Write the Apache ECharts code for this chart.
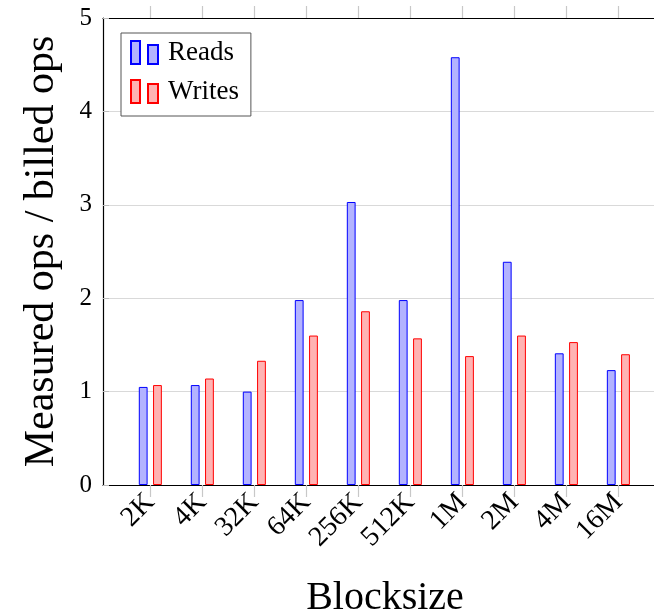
<!DOCTYPE html>
<html>
<head>
<meta charset="utf-8">
<script src="https://cdn.jsdelivr.net/npm/echarts@6/dist/echarts.min.js"></script>
<style>
  html, body { margin: 0; padding: 0; background: #fff; }
  #chart { width: 654px; height: 614px; }
</style>
</head>
<body>
<div id="chart"></div>
<script>
// Block sizes along the x axis
const blockSizes = ['2K', '4K', '32K', '64K', '256K', '512K', '1M', '2M', '4M', '16M'];
// Measured ops / billed ops
const reads  = [1.05, 1.07, 1.00, 1.98, 3.03, 1.98, 4.58, 2.39, 1.41, 1.23];
const writes = [1.07, 1.14, 1.33, 1.60, 1.86, 1.57, 1.38, 1.60, 1.53, 1.40];
const yTicks = [0, 1, 2, 3, 4, 5];

const FONT = "'Liberation Serif', 'Times New Roman', serif";
const positions = blockSizes.map((_, i) => i);

// x range leaves some room on both sides of the first and last group;
// the frame's right side runs just past the page edge
const xMin = -0.91;
const xMax = 9.935;

const legendIcon = 'path://M0,0H9V23H0Z M17,4H27V23H17Z';

const chart = echarts.init(document.getElementById('chart'), null, { renderer: 'canvas' });

chart.setOption({
  animation: false,
  backgroundColor: '#ffffff',
  textStyle: { fontFamily: FONT },
  grid: {
    left: 103, top: 18, width: 564, height: 467,
    containLabel: false,
    outerBoundsMode: 'none'
  },
  legend: {
    orient: 'vertical',
    left: 121,
    top: 33,
    padding: [6, 12, 11, 9],
    itemGap: 12,
    itemWidth: 27,
    itemHeight: 23,
    itemTextGap: 10,
    borderColor: '#555555',
    borderWidth: 1,
    backgroundColor: '#ffffff',
    textStyle: { fontFamily: FONT, fontSize: 27, color: '#000', padding: [0, 0, 0, 5] },
    data: [
      { name: 'Reads', icon: legendIcon },
      { name: 'Writes', icon: legendIcon }
    ]
  },
  xAxis: [
    {
      type: 'value',
      position: 'bottom',
      min: xMin,
      max: xMax,
      name: 'Blocksize',
      nameLocation: 'middle',
      nameGap: 93,
      nameTextStyle: { fontFamily: FONT, fontSize: 40, color: '#000' },
      axisLine: { show: true, onZero: false, lineStyle: { color: '#000', width: 1.2 } },
      axisTick: {
        show: true, inside: false, length: 12,
        customValues: positions,
        lineStyle: { color: '#c8c8c8', width: 1.2 }
      },
      axisLabel: {
        show: true, rotate: 45, margin: 13,
        customValues: positions,
        fontFamily: FONT, fontSize: 28, color: '#000',
        formatter: v => blockSizes[Math.round(v)] || ''
      },
      splitLine: { show: false }
    },
    {
      type: 'value',
      position: 'top',
      min: xMin,
      max: xMax,
      axisLine: { show: true, onZero: false, lineStyle: { color: '#000', width: 1.2 } },
      axisTick: {
        show: true, inside: false, length: 12,
        customValues: positions,
        lineStyle: { color: '#c8c8c8', width: 1.2 }
      },
      axisLabel: { show: false },
      splitLine: { show: false }
    }
  ],
  yAxis: {
    type: 'value',
    min: 0,
    max: 5,
    interval: 1,
    name: 'Measured ops / billed ops',
    nameLocation: 'middle',
    nameGap: 40,
    nameTextStyle: { fontFamily: FONT, fontSize: 42, color: '#000' },
    axisLine: { show: true, onZero: false, lineStyle: { color: '#000', width: 1.2 } },
    axisTick: { show: true, inside: true, length: 6, lineStyle: { color: '#bbbbbb' } },
    axisLabel: {
      customValues: yTicks,
      margin: 11,
      fontFamily: FONT, fontSize: 25, color: '#000'
    },
    splitLine: { show: true, lineStyle: { color: '#d9d9d9', width: 1.2 } }
  },
  series: [
    {
      name: 'Reads',
      type: 'bar',
      xAxisIndex: 0,
      barWidth: 8.8,
      barGap: '62%',
      itemStyle: { color: '#b3b3ff', borderColor: '#0000ff', borderWidth: 1 },
      data: reads.map((v, i) => [i, v])
    },
    {
      name: 'Writes',
      type: 'bar',
      xAxisIndex: 0,
      barWidth: 8.8,
      barGap: '62%',
      itemStyle: { color: '#ffb3b3', borderColor: '#ff0000', borderWidth: 1 },
      data: writes.map((v, i) => [i, v])
    }
  ]
});
</script>
</body>
</html>
